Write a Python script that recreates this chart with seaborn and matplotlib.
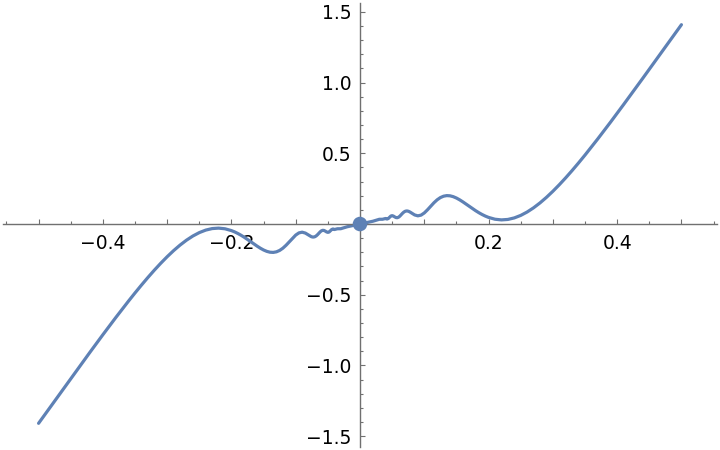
import pandas as pd
import seaborn as sns
import matplotlib
matplotlib.use("Agg")
import matplotlib.pyplot as plt
from matplotlib.ticker import MultipleLocator, FuncFormatter

# curve values (right half, then left half)
x_pos = [0, 0.01, 0.02, 0.03, 0.035,
         0.04, 0.042, 0.044, 0.046, 0.048, 0.05, 0.052, 0.054, 0.056, 0.058,
         0.06, 0.062, 0.064, 0.066, 0.068, 0.07, 0.072, 0.074, 0.076, 0.078, 0.08,
         0.085, 0.09, 0.095, 0.1, 0.105, 0.11, 0.115, 0.12, 0.125, 0.13, 0.135,
         0.14, 0.145, 0.15, 0.155, 0.16, 0.165, 0.17, 0.175, 0.18, 0.185, 0.19,
         0.195, 0.2, 0.21, 0.22, 0.23, 0.24, 0.25, 0.26, 0.27, 0.28, 0.29, 0.3,
         0.31, 0.32, 0.33, 0.34, 0.35, 0.36, 0.37, 0.38, 0.39, 0.4,
         0.41, 0.42, 0.43, 0.44, 0.45, 0.46, 0.47, 0.48, 0.49, 0.5]
y_pos = [0.0, 0.0098, 0.0196, 0.0334, 0.0336,
         0.0392, 0.0352, 0.0388, 0.0481, 0.0564, 0.0591, 0.0560, 0.0502, 0.0455, 0.0446,
         0.0482, 0.0557, 0.0654, 0.0752, 0.0836, 0.0894, 0.0921, 0.0918, 0.0889, 0.0841, 0.0783,
         0.0642, 0.0578, 0.0628, 0.0782, 0.1006, 0.1259, 0.1502, 0.1711, 0.1868, 0.1967, 0.2008,
         0.1994, 0.1934, 0.1837, 0.1711, 0.1566, 0.1410, 0.1249, 0.1090, 0.0938, 0.0797, 0.0670,
         0.0559, 0.0466, 0.0338, 0.0291, 0.0323, 0.0431, 0.0608, 0.0849, 0.1146, 0.1493, 0.1884, 0.2314,
         0.2777, 0.3268, 0.3784, 0.4321, 0.4875, 0.5445, 0.6027, 0.6620, 0.7221, 0.7830,
         0.8445, 0.9064, 0.9687, 1.0313, 1.0941, 1.1571, 1.2201, 1.2832, 1.3463, 1.4093]
x_neg = [-0.01, -0.02, -0.03, -0.035,
         -0.04, -0.042, -0.044, -0.046, -0.048, -0.05, -0.052, -0.054, -0.056, -0.058,
         -0.06, -0.062, -0.064, -0.066, -0.068, -0.07, -0.072, -0.074, -0.076, -0.078, -0.08,
         -0.085, -0.09, -0.095, -0.1, -0.105, -0.11, -0.115, -0.12, -0.125, -0.13, -0.135,
         -0.14, -0.145, -0.15, -0.155, -0.16, -0.165, -0.17, -0.175, -0.18, -0.185, -0.19,
         -0.195, -0.2, -0.21, -0.22, -0.23, -0.24, -0.25, -0.26, -0.27, -0.28, -0.29, -0.3,
         -0.31, -0.32, -0.33, -0.34, -0.35, -0.36, -0.37, -0.38, -0.39, -0.4,
         -0.41, -0.42, -0.43, -0.44, -0.45, -0.46, -0.47, -0.48, -0.49, -0.5]
y_neg = [-0.0098, -0.0196, -0.0334, -0.0336,
         -0.0392, -0.0352, -0.0388, -0.0481, -0.0564, -0.0591, -0.0560, -0.0502, -0.0455, -0.0446,
         -0.0482, -0.0557, -0.0654, -0.0752, -0.0836, -0.0894, -0.0921, -0.0918, -0.0889, -0.0841, -0.0783,
         -0.0642, -0.0578, -0.0628, -0.0782, -0.1006, -0.1259, -0.1502, -0.1711, -0.1868, -0.1967, -0.2008,
         -0.1994, -0.1934, -0.1837, -0.1711, -0.1566, -0.1410, -0.1249, -0.1090, -0.0938, -0.0797, -0.0670,
         -0.0559, -0.0466, -0.0338, -0.0291, -0.0323, -0.0431, -0.0608, -0.0849, -0.1146, -0.1493, -0.1884, -0.2314,
         -0.2777, -0.3268, -0.3784, -0.4321, -0.4875, -0.5445, -0.6027, -0.6620, -0.7221, -0.7830,
         -0.8445, -0.9064, -0.9687, -1.0313, -1.0941, -1.1571, -1.2201, -1.2832, -1.3463, -1.4093]

point_x = [0]
point_y = [0]

x_labels = [-0.4, -0.2, 0.2, 0.4]
y_labels = [-1.5, -1.0, -0.5, 0.5, 1.0, 1.5]

line_color = '#5E81B5'
axis_color = '#707070'


def fmt(labels):
    def f(v, pos):
        for lab in labels:
            if abs(v - lab) < 1e-6:
                return f"{lab:.1f}".replace('-', '\u2212')
        return ''
    return FuncFormatter(f)


def make_plot():
    sns.set_style('white')
    plt.rcParams['font.family'] = ['DejaVu Sans']

    df = pd.DataFrame({'x': x_neg[::-1] + x_pos, 'y': y_neg[::-1] + y_pos})

    fig = plt.figure(figsize=(7.2, 4.5), dpi=100)
    ax = fig.add_axes([0, 0, 1, 1])
    sns.lineplot(data=df, x='x', y='y', sort=False, estimator=None,
                 color=line_color, linewidth=2.3, ax=ax)
    sns.scatterplot(x=point_x, y=point_y, color=line_color, s=110,
                    edgecolor='none', zorder=5, ax=ax)

    ax.set_xlim(-0.560, 0.560)
    ax.set_ylim(-1.598, 1.584)
    ax.set_xlabel('')
    ax.set_ylabel('')

    for side in ['top', 'right']:
        ax.spines[side].set_visible(False)
    ax.spines['left'].set_position(('data', 0))
    ax.spines['bottom'].set_position(('data', 0))
    ax.spines['bottom'].set_bounds(-0.555, 0.555)
    ax.spines['left'].set_bounds(-1.577, 1.563)
    for side in ['left', 'bottom']:
        ax.spines[side].set_color(axis_color)
        ax.spines[side].set_linewidth(1.0)

    ax.xaxis.set_major_locator(MultipleLocator(0.1))
    ax.xaxis.set_minor_locator(MultipleLocator(0.05))
    ax.yaxis.set_major_locator(MultipleLocator(0.5))
    ax.yaxis.set_minor_locator(MultipleLocator(0.1))
    ax.xaxis.set_major_formatter(fmt(x_labels))
    ax.yaxis.set_major_formatter(fmt(y_labels))

    ax.tick_params(which='both', direction='in', color=axis_color, width=0.8,
                   labelsize=13.5, labelcolor='black', bottom=True, left=True)
    ax.tick_params(which='major', length=3.5)
    ax.tick_params(which='minor', length=2)
    ax.tick_params(axis='x', pad=7)
    ax.tick_params(axis='y', pad=6)

    fig.savefig('out.png', dpi=100)


if __name__ == "__main__":
    make_plot()
